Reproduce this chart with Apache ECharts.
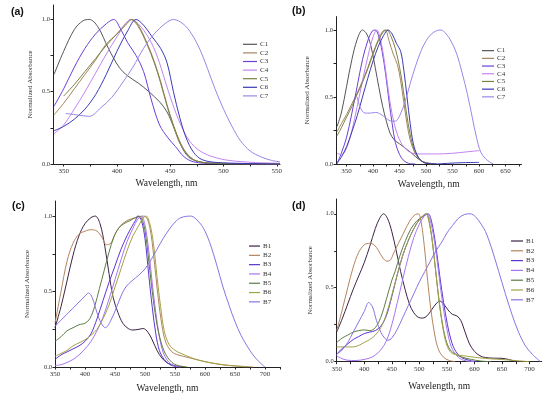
<!DOCTYPE html>
<html><head><meta charset="utf-8">
<script src="https://cdn.jsdelivr.net/npm/echarts@6/dist/echarts.min.js"></script>
<style>html,body{margin:0;padding:0;background:#fff}#c{width:550px;height:398px}</style>
</head><body><div id="c"></div>
<script>
// ---------- data (wavelength nm, normalized absorbance) ----------
const namesC = ['C1','C2','C3','C4','C5','C6','C7'];
const namesB = ['B1','B2','B3','B4','B5','B6','B7'];
const panelLabels = ['(a)','(b)','(c)','(d)'];
const yLabels = [0, 0.5, 1.0];
const xLabelsA = [350,400,450,500,550];
const xLabelsB = [350,400,450,500,550,600,650];
const xLabelsC = [350,400,450,500,550,600,650,700];
const xLabelsD = [350,400,450,500,550,600,650,700];

// panel (a)
const a_C1 = [[341,0.62],[350,0.78],[360,0.93],[368,0.99],[374,1.0],[382,0.95],[392,0.8],[402,0.67],[410,0.61],[420,0.56],[430,0.5],[440,0.43],[447,0.36],[453,0.26],[460,0.13],[467,0.05],[475,0.02],[490,0.005],[553,0]];
const a_C2 = [[341,0.34],[350,0.42],[360,0.52],[370,0.62],[380,0.72],[390,0.83],[400,0.9],[408,0.97],[413,1.0],[420,0.95],[428,0.83],[435,0.7],[441,0.56],[447,0.4],[453,0.26],[460,0.13],[467,0.06],[475,0.02],[490,0.005],[553,0]];
const a_C3 = [[341,0.4],[350,0.52],[360,0.67],[370,0.8],[380,0.9],[390,0.97],[397,1.0],[403,0.94],[410,0.84],[418,0.75],[425,0.64],[432,0.45],[440,0.27],[448,0.18],[455,0.12],[463,0.05],[472,0.015],[490,0.003],[553,0]];
const a_C4 = [[341,0.21],[350,0.27],[360,0.38],[370,0.5],[380,0.63],[390,0.76],[400,0.88],[408,0.97],[413,1.0],[420,0.97],[430,0.87],[438,0.74],[445,0.58],[452,0.42],[460,0.27],[468,0.16],[478,0.09],[490,0.05],[505,0.025],[530,0.01],[553,0.005]];
const a_C5 = [[350,0.47],[360,0.55],[370,0.64],[380,0.73],[390,0.82],[400,0.9],[408,0.96],[414,1.0],[420,0.96],[428,0.84],[435,0.71],[441,0.57],[447,0.41],[453,0.27],[460,0.14],[467,0.06],[475,0.02],[490,0.005],[553,0]];
const a_C6 = [[341,0.23],[350,0.26],[360,0.31],[370,0.38],[380,0.48],[390,0.62],[400,0.78],[410,0.92],[418,1.0],[425,0.96],[433,0.88],[441,0.8],[447,0.7],[453,0.5],[459,0.32],[465,0.18],[472,0.08],[480,0.03],[495,0.01],[553,0]];
const a_C7 = [[352,0.35],[362,0.34],[374,0.33],[385,0.39],[395,0.46],[405,0.56],[415,0.67],[425,0.8],[435,0.9],[445,0.97],[453,1.0],[462,0.97],[470,0.9],[478,0.79],[485,0.66],[492,0.52],[500,0.38],[508,0.26],[516,0.16],[525,0.09],[535,0.05],[545,0.025],[553,0.015]];

// panel (b)
const b_C1 = [[332,0.28],[340,0.38],[350,0.58],[360,0.78],[370,0.93],[380,1.0],[388,0.97],[396,0.88],[404,0.72],[411,0.57],[418,0.43],[425,0.32],[432,0.23],[440,0.18],[450,0.15],[460,0.12],[470,0.09],[480,0.055],[490,0.025],[500,0.01],[520,0]];
const b_C2 = [[332,0.24],[340,0.3],[350,0.37],[360,0.45],[370,0.53],[380,0.62],[390,0.72],[400,0.83],[410,0.93],[418,0.99],[423,1.0],[430,0.92],[438,0.82],[446,0.74],[452,0.62],[458,0.46],[464,0.3],[470,0.18],[478,0.09],[486,0.04],[495,0.015],[510,0]];
const b_C3 = [[332,0.0],[340,0.08],[350,0.2],[360,0.38],[370,0.58],[380,0.78],[390,0.92],[398,0.99],[404,1.0],[410,0.96],[417,0.84],[424,0.66],[430,0.47],[436,0.3],[442,0.16],[450,0.07],[458,0.025],[467,0.005],[480,0]];
const b_C4 = [[332,0.08],[340,0.07],[350,0.12],[360,0.25],[370,0.43],[380,0.62],[390,0.8],[400,0.95],[407,1.0],[414,0.93],[420,0.8],[426,0.63],[432,0.46],[440,0.3],[450,0.18],[462,0.11],[475,0.08],[490,0.075],[520,0.075],[550,0.08],[575,0.09],[600,0.1]];
const b_C5 = [[332,0.21],[340,0.27],[350,0.35],[360,0.43],[370,0.52],[380,0.61],[390,0.71],[400,0.82],[410,0.92],[420,0.99],[426,1.0],[434,0.95],[442,0.86],[450,0.72],[457,0.55],[463,0.38],[470,0.22],[478,0.1],[487,0.04],[497,0.01],[510,0]];
const b_C6 = [[332,0.01],[340,0.05],[350,0.13],[360,0.24],[370,0.36],[380,0.5],[390,0.64],[400,0.77],[410,0.88],[420,0.96],[428,1.0],[436,0.97],[444,0.9],[452,0.84],[458,0.7],[464,0.5],[470,0.3],[476,0.15],[484,0.06],[492,0.02],[500,0.005],[520,0],[540,0.005],[570,0.01],[600,0.012]];
const b_C7 = [[370,0.5],[376,0.42],[385,0.38],[395,0.38],[405,0.385],[415,0.37],[425,0.34],[435,0.32],[442,0.32],[450,0.36],[460,0.46],[470,0.6],[480,0.73],[490,0.84],[500,0.92],[510,0.97],[520,0.995],[528,1.0],[538,0.97],[548,0.91],[558,0.82],[568,0.68],[578,0.52],[587,0.35],[595,0.2],[603,0.09],[612,0.04],[620,0.015],[627,0]];

// panel (c)
const c_B1 = [[350,0.26],[360,0.4],[370,0.57],[380,0.74],[390,0.87],[400,0.95],[410,0.99],[417,1.0],[425,0.95],[433,0.8],[440,0.62],[447,0.46],[455,0.36],[463,0.29],[472,0.255],[480,0.245],[490,0.25],[497,0.255],[505,0.23],[512,0.18],[520,0.11],[528,0.06],[538,0.025],[550,0.008],[565,0]];
const c_B2 = [[350,0.29],[360,0.5],[370,0.7],[380,0.82],[390,0.88],[400,0.9],[410,0.91],[420,0.9],[428,0.86],[436,0.81],[443,0.82],[450,0.88],[460,0.94],[470,0.97],[480,0.985],[490,0.995],[498,1.0],[504,0.98],[510,0.88],[516,0.68],[522,0.46],[528,0.28],[535,0.16],[545,0.1],[555,0.08],[570,0.065],[585,0.05],[600,0.035],[620,0.02],[640,0.01],[660,0.005],[680,0]];
const c_B3 = [[350,0.05],[360,0.08],[370,0.1],[380,0.12],[390,0.14],[400,0.17],[410,0.22],[420,0.32],[430,0.44],[440,0.56],[450,0.67],[460,0.78],[470,0.87],[478,0.93],[484,0.97],[488,1.0],[494,0.97],[500,0.85],[506,0.62],[512,0.4],[518,0.22],[524,0.11],[532,0.05],[542,0.015],[555,0]];
const c_B4 = [[350,0.01],[360,0.015],[370,0.03],[380,0.05],[390,0.08],[400,0.12],[410,0.17],[420,0.24],[430,0.33],[440,0.45],[450,0.58],[460,0.71],[470,0.83],[480,0.92],[488,0.98],[494,1.0],[500,0.94],[506,0.78],[512,0.56],[518,0.36],[524,0.2],[530,0.1],[538,0.04],[548,0.01],[560,0]];
const c_B5 = [[350,0.17],[360,0.2],[370,0.24],[380,0.26],[390,0.28],[400,0.29],[408,0.32],[416,0.4],[424,0.52],[432,0.64],[440,0.76],[448,0.86],[456,0.92],[465,0.95],[475,0.97],[484,0.99],[490,1.0],[496,0.97],[502,0.85],[508,0.64],[514,0.44],[520,0.28],[527,0.16],[535,0.08],[545,0.03],[555,0.01],[570,0]];
const c_B6 = [[350,0.07],[360,0.09],[370,0.11],[380,0.14],[390,0.16],[400,0.18],[410,0.21],[420,0.25],[430,0.32],[440,0.41],[450,0.53],[460,0.65],[470,0.77],[480,0.87],[490,0.94],[497,0.99],[502,1.0],[508,0.95],[514,0.82],[520,0.6],[526,0.4],[532,0.24],[540,0.15],[550,0.11],[560,0.09],[575,0.065],[590,0.045],[610,0.028],[630,0.015],[650,0.007],[670,0]];
const c_B7 = [[350,0.27],[360,0.31],[370,0.35],[380,0.39],[390,0.43],[400,0.47],[406,0.49],[412,0.46],[420,0.36],[427,0.29],[434,0.26],[442,0.3],[452,0.39],[460,0.47],[468,0.53],[478,0.57],[490,0.61],[500,0.65],[510,0.71],[520,0.78],[530,0.85],[540,0.91],[550,0.96],[560,0.99],[576,1.0],[590,0.96],[600,0.9],[610,0.8],[620,0.67],[630,0.53],[640,0.41],[650,0.3],[660,0.21],[670,0.14],[680,0.08],[690,0.035],[700,0]];

// panel (d)
const d_B1 = [[350,0.2],[360,0.29],[370,0.39],[380,0.49],[390,0.58],[400,0.67],[410,0.78],[420,0.9],[428,0.97],[435,1.0],[442,0.97],[450,0.88],[458,0.75],[466,0.61],[474,0.49],[482,0.39],[490,0.33],[498,0.3],[506,0.295],[514,0.31],[522,0.35],[530,0.39],[537,0.41],[544,0.39],[552,0.35],[560,0.32],[568,0.31],[575,0.28],[583,0.2],[591,0.12],[600,0.07],[610,0.04],[620,0.028],[635,0.024],[650,0.023],[662,0.015],[675,0.003],[690,0]];
const d_B2 = [[350,0.21],[360,0.35],[370,0.5],[380,0.64],[390,0.74],[400,0.79],[410,0.8],[418,0.79],[426,0.75],[434,0.7],[441,0.68],[447,0.685],[454,0.74],[462,0.8],[470,0.86],[478,0.92],[486,0.97],[493,0.995],[498,1.0],[503,0.95],[509,0.78],[515,0.55],[521,0.35],[528,0.18],[535,0.08],[544,0.03],[553,0.01],[565,0]];
const d_B3 = [[350,0.05],[360,0.09],[370,0.12],[380,0.15],[390,0.17],[400,0.19],[410,0.2],[420,0.21],[430,0.24],[440,0.31],[450,0.44],[460,0.59],[470,0.72],[480,0.82],[490,0.9],[500,0.96],[510,0.99],[516,1.0],[522,0.95],[530,0.78],[537,0.58],[544,0.4],[551,0.25],[558,0.14],[566,0.07],[576,0.03],[590,0.01],[605,0]];
const d_B4 = [[350,0.04],[360,0.02],[370,0.01],[383,0.008],[395,0.012],[410,0.025],[420,0.045],[430,0.08],[440,0.14],[450,0.25],[460,0.4],[470,0.56],[480,0.71],[490,0.84],[500,0.93],[508,0.98],[514,1.0],[520,0.95],[528,0.8],[535,0.6],[542,0.4],[550,0.22],[558,0.1],[568,0.04],[580,0.01],[600,0]];
const d_B5 = [[350,0.13],[360,0.16],[370,0.18],[380,0.2],[390,0.21],[400,0.215],[410,0.21],[420,0.23],[430,0.3],[440,0.42],[450,0.55],[456,0.61],[465,0.72],[475,0.82],[485,0.9],[495,0.95],[505,0.98],[512,1.0],[520,0.9],[527,0.7],[533,0.5],[540,0.3],[548,0.15],[556,0.08],[566,0.05],[578,0.03],[595,0.015],[610,0.005],[630,0]];
const d_B6 = [[350,0.1],[360,0.1],[370,0.1],[380,0.1],[390,0.11],[400,0.13],[410,0.15],[420,0.18],[430,0.23],[440,0.32],[450,0.45],[460,0.59],[470,0.72],[480,0.82],[490,0.9],[500,0.96],[507,0.99],[512,1.0],[518,0.94],[524,0.8],[530,0.6],[536,0.4],[543,0.22],[550,0.11],[558,0.06],[570,0.045],[585,0.038],[600,0.03],[620,0.022],[640,0.017],[660,0.012],[680,0.006],[700,0]];
const d_B7 = [[350,0.05],[360,0.08],[370,0.13],[380,0.2],[390,0.27],[400,0.34],[408,0.4],[415,0.37],[422,0.28],[430,0.2],[437,0.16],[443,0.145],[450,0.16],[460,0.22],[470,0.3],[480,0.38],[490,0.46],[500,0.54],[510,0.61],[520,0.68],[530,0.75],[541,0.81],[550,0.87],[560,0.92],[571,0.97],[582,0.995],[592,1.0],[602,0.98],[612,0.93],[620,0.88],[630,0.78],[644,0.61],[656,0.46],[668,0.32],[680,0.2],[692,0.11],[705,0.05],[720,0]];

const colorsC = ['#555555','#a4845c','#6a40d6','#c384f0','#7c8244','#3a3ab4','#9c86e8'];
const colorsB = ['#3c2444','#b4845c','#5c34d2','#a676f0','#5c7c44','#a2a244','#8c72e2'];

// ---------- layout ----------
const grids = [
  {left:53, top:5, width:227, height:159},
  {left:336, top:16.6, width:185.5, height:147.4},
  {left:55, top:201, width:225, height:166},
  {left:336.7, top:199, width:205, height:162.7}
];
const xRanges = [[340,553],[330,680],[350,725],[350,722]];
const xLabelSets = [xLabelsA, xLabelsB, xLabelsC, xLabelsD];
const xNameGaps = [14, 15, 16, 20];
const yNameGaps = [19.5, 25, 24.5, 23];
const panelData = [
  [a_C1,a_C2,a_C3,a_C4,a_C5,a_C6,a_C7],
  [b_C1,b_C2,b_C3,b_C4,b_C5,b_C6,b_C7],
  [c_B1,c_B2,c_B3,c_B4,c_B5,c_B6,c_B7],
  [d_B1,d_B2,d_B3,d_B4,d_B5,d_B6,d_B7]
];
const legendPos = [
  {left:243, top:40, itemWidth:14, lh:8.6},
  {left:482, top:46.8, itemWidth:12, lh:7.7},
  {left:249, top:241.4, itemWidth:11, lh:9.3},
  {left:511, top:236.1, itemWidth:12, lh:9.8}
];
const panelLabelPos = [[11,12.5],[292,11.5],[12,206],[292,206]];

const serif = '"Liberation Serif","Times New Roman",serif';
const xAxes = [], yAxes = [], series = [], legends = [], graphics = [];
for (let i = 0; i < 4; i++) {
  const xl = xLabelSets[i];
  const xt = [];
  for (let v = xl[0] - 25; v <= xRanges[i][1]; v += 25) if (v >= xRanges[i][0]) xt.push(v);
  xAxes.push({
    type:'value', gridIndex:i, min:xRanges[i][0], max:xRanges[i][1],
    name:'Wavelength, nm', nameLocation:'middle', nameGap:xNameGaps[i],
    nameTextStyle:{fontFamily:serif, fontSize:9.5, color:'#222'},
    axisLine:{show:true, onZero:false, lineStyle:{color:'#222', width:1}},
    axisTick:{show:true, length:2.5, customValues:xt, lineStyle:{color:'#222'}},
    axisLabel:{customValues:xl, fontFamily:serif, fontSize:7, color:'#333', margin:4},
    splitLine:{show:false}
  });
  yAxes.push({
    type:'value', gridIndex:i, min:0, max:1.1,
    name:'Normalized Absorbance', nameLocation:'middle', nameGap:yNameGaps[i],
    nameTextStyle:{fontFamily:serif, fontSize:7, color:'#333'},
    axisLine:{show:true, onZero:false, lineStyle:{color:'#222', width:1}},
    axisTick:{show:true, length:2.5, customValues:[0,0.25,0.5,0.75,1.0], lineStyle:{color:'#222'}},
    axisLabel:{customValues:yLabels, fontFamily:serif, fontSize:6.5, color:'#333', margin:3,
      formatter:v => v.toFixed(1)},
    splitLine:{show:false}
  });
  const names = i < 2 ? namesC : namesB;
  const cols = i < 2 ? colorsC : colorsB;
  panelData[i].forEach((d, k) => {
    series.push({
      type:'line', name:names[k], xAxisIndex:i, yAxisIndex:i, data:d,
      smooth:0.35, symbol:'none', showSymbol:false, clip:true,
      lineStyle:{width:1, color:cols[k]}, itemStyle:{color:cols[k]},
      emphasis:{disabled:true}, silent:true
    });
  });
  const lp = legendPos[i];
  legends.push({
    orient:'vertical', left:lp.left, top:lp.top, padding:0, itemGap:0,
    itemWidth:lp.itemWidth, itemHeight:1.2, icon:'rect', selectedMode:false,
    data:names.map((n,k)=>({name:n, itemStyle:{color:cols[k]}})),
    textStyle:{fontFamily:serif, fontSize:7, color:'#333', lineHeight:lp.lh, padding:[0,0,0,-2]}
  });
  graphics.push({
    type:'text', x:panelLabelPos[i][0], y:panelLabelPos[i][1],
    style:{text:panelLabels[i], font:'bold 10.5px "Liberation Sans", Arial, sans-serif', fill:'#111', verticalAlign:'middle'}
  });
}

const chart = echarts.init(document.getElementById('c'), null, {renderer:'canvas'});
chart.setOption({
  animation:false,
  backgroundColor:'#fff',
  grid:grids,
  xAxis:xAxes, yAxis:yAxes,
  legend:legends,
  series:series,
  graphic:graphics
});
</script></body></html>
